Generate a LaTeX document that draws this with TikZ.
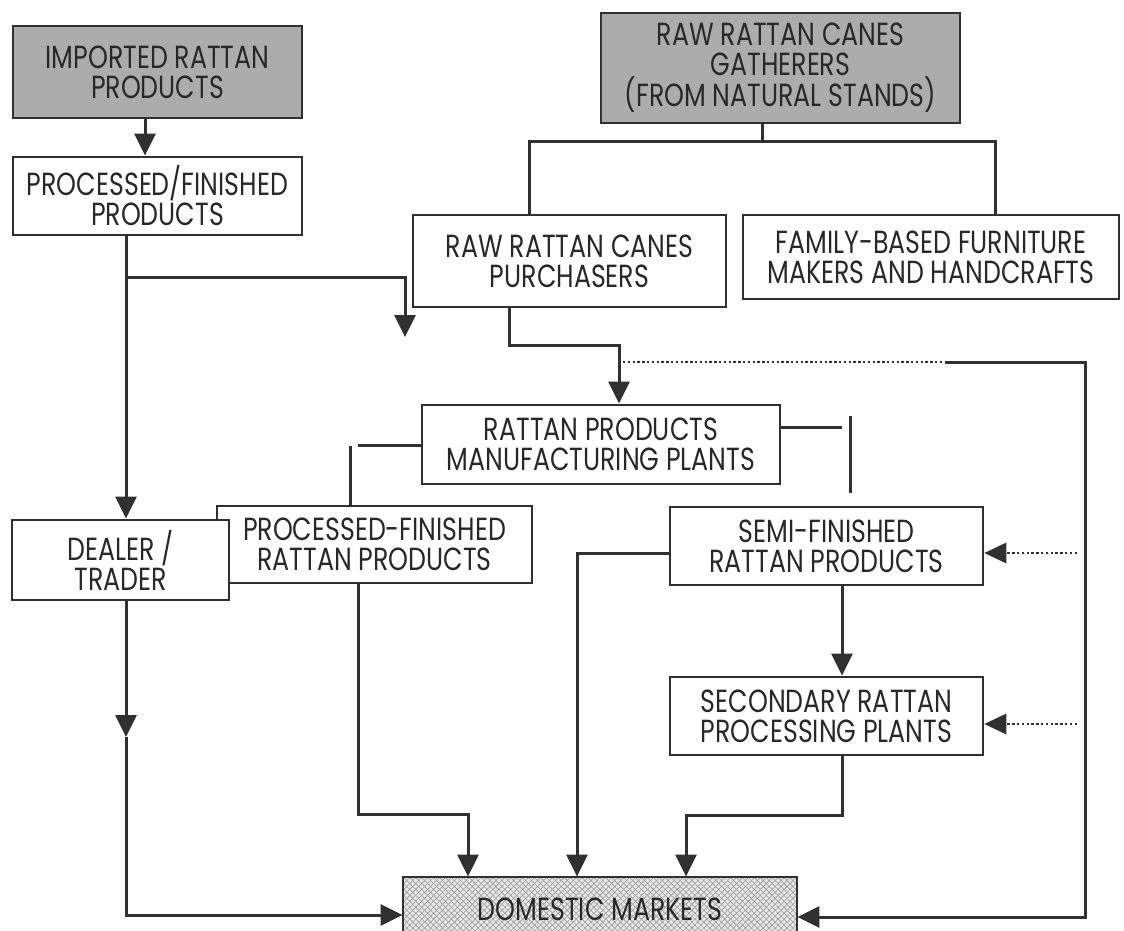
\documentclass[tikz,border=0pt]{standalone}
\usepackage{fontspec}
\setmainfont{Poppins}[FakeStretch=0.79]
\usetikzlibrary{arrows.meta,patterns.meta}
\definecolor{linec}{RGB}{48,48,48}
\definecolor{txt}{RGB}{40,40,40}
\definecolor{shade}{RGB}{172,172,172}
\tikzset{
  box/.style={draw=linec, line width=2.8pt, fill=white, align=center,
    inner sep=0pt, text=txt, font=\fontsize{32}{30}\selectfont},
  grey/.style={fill=shade},
  conn/.style={draw=linec, line width=3pt},
  arr/.style={conn, -{Triangle[width=21pt,length=22pt]}},
  dots/.style={draw=linec, line width=2.7pt, dash pattern=on 2.4pt off 2.4pt},
  dotarr/.style={dots, -{Triangle[width=21pt,length=22pt,line width=0pt,fill=linec]}},
}
\begin{document}
\begin{tikzpicture}[x=1pt,y=-1pt]
\useasboundingbox (0,0) rectangle (1124,931);

% boxes
\node[box,grey,minimum width=289pt,minimum height=92pt] (imp) at (157.5,72) {IMPORTED RATTAN\\PRODUCTS};
\node[box,minimum width=289pt,minimum height=78pt] (pfp) at (157.5,196) {PROCESSED/FINISHED\\PRODUCTS};
\node[box,grey,minimum width=359pt,minimum height=110pt] (gath) at (780.5,68) {RAW RATTAN CANES\\GATHERERS\\(FROM NATURAL STANDS)};
\node[box,minimum width=313pt,minimum height=92pt] (purch) at (569.5,261) {RAW RATTAN CANES\\PURCHASERS};
\node[box,minimum width=376pt,minimum height=84pt] (fam) at (931,257) {FAMILY-BASED FURNITURE\\MAKERS AND HANDCRAFTS};
\node[box,minimum width=358pt,minimum height=79pt] (manu) at (601,444.5) {RATTAN PRODUCTS\\MANUFACTURING PLANTS};
\node[box,minimum width=315pt,minimum height=77pt] (pfr) at (374.5,544.5) {PROCESSED-FINISHED\\RATTAN PRODUCTS};
\node[box,minimum width=217pt,minimum height=80pt] (dealer) at (120.5,560) {DEALER /\\TRADER};
\node[box,minimum width=313pt,minimum height=78pt] (semi) at (826.5,546) {SEMI-FINISHED\\RATTAN PRODUCTS};
\node[box,minimum width=313pt,minimum height=78pt] (sec) at (826.5,716) {SECONDARY RATTAN\\PROCESSING PLANTS};
\node[box,minimum width=394pt,minimum height=80pt,
  preaction={fill=gray!18},
  preaction={pattern={Lines[angle=45,distance=4.2pt,line width=0.8pt]},pattern color=gray!70},
  pattern={Lines[angle=-45,distance=4.2pt,line width=0.8pt]},pattern color=gray!70]
  (dom) at (600,917) {\raisebox{15pt}{DOMESTIC MARKETS}};

% reference coordinates for the routed lines
\coordinate (lx) at (126,0);
\coordinate (j1) at (126,277);
\coordinate (loose) at (405,337);
\coordinate (g1) at (762,142);
\coordinate (p1) at (509,345);
\coordinate (d1) at (623,362);
\coordinate (d2) at (945,362);
\coordinate (r1) at (1085,362);
\coordinate (dealtip) at (126,737);
\coordinate (dbot) at (126,915);
\coordinate (pfrbot) at (358,814);
\coordinate (secbot) at (842,815);
\coordinate (semil) at (577,553);
\coordinate (semidot) at (1077,553);
\coordinate (secdot) at (1077,724);

% imported products
\draw[arr] ([xshift=-12.5pt]imp.south) -- ([xshift=-12.5pt]pfp.north);
\draw[arr] (pfp.south -| lx) -- (dealer.north -| lx);
\draw[arr] (j1) -| (loose);

% gatherers split
\draw[conn] (gath.south -| g1) -- (g1);
\draw[conn] (purch.north -| 529,0) |- (g1) -| (fam.north -| 995,0);

% purchasers to manufacturing, and the supply line on the right
\draw[arr] (purch.south -| p1) -- (p1) -| (manu.north -| 619,0);
\draw[dots] (d1) -- (d2);
\draw[arr] (d2) -- (r1) |- (dom.east);

% manufacturing side stubs
\draw[conn] (manu.west |- 0,445) -- (358,445);
\draw[conn] (350,446) -- (pfr.north -| 350,0);
\draw[conn] (manu.east |- 0,427) -- (842,427);
\draw[conn] (850,416) -- (850,493);

% down to the markets
\draw[arr] (dealer.south -| lx) -- (dealtip);
\draw[arr] (dealtip) -- (dbot) -- (dom.west |- dbot);
\draw[arr] (pfr.south -| pfrbot) -- (pfrbot) -| (dom.north -| 468,0);
\draw[arr] (semi.west |- semil) -- (semil) -- (dom.north -| semil);
\draw[arr] (semi.south -| secbot) -- (sec.north -| secbot);
\draw[arr] (sec.south -| secbot) -- (secbot) -| (dom.north -| 686,0);

% dotted feeds
\draw[dotarr] (semidot) -- (semi.east |- semidot);
\draw[dotarr] (secdot) -- (sec.east |- secdot);
\end{tikzpicture}
\end{document}
